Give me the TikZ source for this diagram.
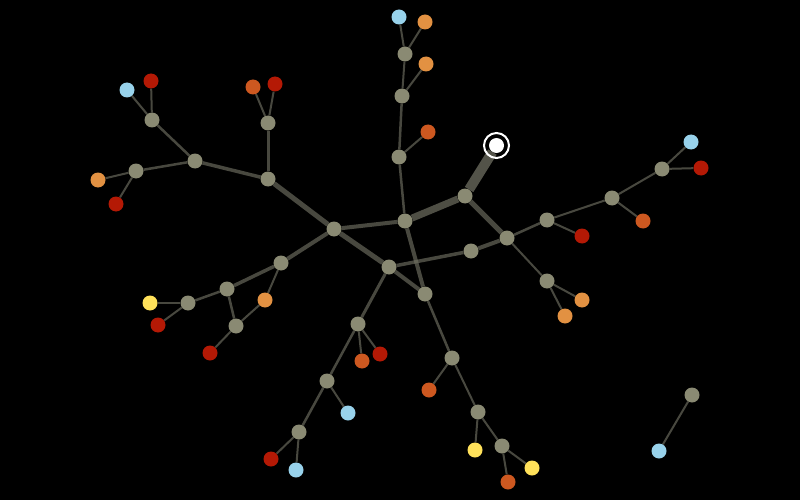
\documentclass[tikz,border=0pt]{standalone}
\pgfdeclarelayer{back}
\pgfdeclarelayer{edges}
\pgfsetlayers{back,edges,main}
\definecolor{ngray}{RGB}{138,138,115}
\definecolor{nblue}{RGB}{152,210,235}
\definecolor{nred}{RGB}{180,25,5}
\definecolor{norr}{RGB}{205,88,32}
\definecolor{nora}{RGB}{226,145,66}
\definecolor{nyel}{RGB}{255,225,90}
\definecolor{ecol}{RGB}{112,112,98}
\tikzset{
  nd/.style={circle,inner sep=0pt,minimum size=15pt,draw=none},
  gn/.style={nd,fill=ngray},
  bl/.style={nd,fill=nblue},
  rd/.style={nd,fill=nred},
  orr/.style={nd,fill=norr},
  ora/.style={nd,fill=nora},
  yl/.style={nd,fill=nyel},
  wn/.style={nd,fill=white},
  ringnode/.style={circle,inner sep=0pt,minimum size=25pt,draw=white,line width=2pt},
  e/.style={draw=ecol,draw opacity=0.65,line width=2pt},
  ew/.style={e,line width=#1}
}
\begin{document}
\begin{tikzpicture}[x=1pt,y=-1pt]
\begin{pgfonlayer}{back}
\fill[black] (0,0) rectangle (800,500);
\end{pgfonlayer}
\useasboundingbox (0,0) rectangle (800,500);
% internal nodes
\node[gn] (A) at (334,229) {};
\node[gn] (B) at (405,221) {};
\node[gn] (C) at (465,196) {};
\node[gn] (D) at (389,267) {};
\node[gn] (E) at (425,294) {};
\node[gn] (F) at (471,251) {};
\node[gn] (G) at (507,238) {};
\node[gn] (H) at (268,179) {};
\node[gn] (I) at (195,161) {};
\node[gn] (J) at (152,120) {};
\node[gn] (K) at (136,171) {};
\node[gn] (L) at (268,123) {};
\node[gn] (M) at (281,263) {};
\node[gn] (N) at (227,289) {};
\node[gn] (O) at (188,303) {};
\node[gn] (P) at (236,326) {};
\node[gn] (Q) at (358,324) {};
\node[gn] (R) at (327,381) {};
\node[gn] (S) at (299,432) {};
\node[gn] (T) at (452,358) {};
\node[gn] (U) at (478,412) {};
\node[gn] (V) at (502,446) {};
\node[gn] (W) at (547,220) {};
\node[gn] (X) at (612,198) {};
\node[gn] (Y) at (662,169) {};
\node[gn] (Z) at (547,281) {};
\node[gn] (AA) at (399,157) {};
\node[gn] (AB) at (402,96) {};
\node[gn] (AC) at (405,54) {};
\node[gn] (AD) at (692,395) {};
% white node
\node[wn] (WH) at (496.5,145.5) {};
\node[ringnode] (WR) at (WH.center) {};
% leaves
\node[bl] (l1) at (399,17) {};
\node[ora] (l2) at (425,22) {};
\node[ora] (l3) at (426,64) {};
\node[orr] (l4) at (428,132) {};
\node[bl] (l5) at (127,90) {};
\node[rd] (l6) at (151,81) {};
\node[ora] (l7) at (98,180) {};
\node[rd] (l8) at (116,204) {};
\node[orr] (l9) at (253,87) {};
\node[rd] (l10) at (275,84) {};
\node[yl] (l11) at (150,303) {};
\node[rd] (l12) at (158,325) {};
\node[ora] (l13) at (265,300) {};
\node[rd] (l14) at (210,353) {};
\node[orr] (l15) at (362,361) {};
\node[rd] (l16) at (380,354) {};
\node[bl] (l17) at (348,413) {};
\node[rd] (l18) at (271,459) {};
\node[bl] (l19) at (296,470) {};
\node[orr] (l20) at (429,390) {};
\node[yl] (l21) at (475,450) {};
\node[yl] (l22) at (532,468) {};
\node[orr] (l23) at (508,482) {};
\node[rd] (l24) at (582,236) {};
\node[ora] (l25) at (582,300) {};
\node[ora] (l26) at (565,316) {};
\node[orr] (l27) at (643,221) {};
\node[bl] (l28) at (691,142) {};
\node[rd] (l29) at (701,168) {};
\node[bl] (l30) at (659,451) {};
\begin{pgfonlayer}{edges}
\draw[ew=10pt,draw opacity=0.75] (C) -- (WH);
\draw[ew=7pt,draw opacity=0.7] (B) -- (C);
\draw[ew=5pt] (C) -- (G);
\draw[ew=4pt] (A) -- (B);
\draw[ew=5pt] (A) -- (H);
\draw[ew=5pt] (A) -- (D);
\draw[ew=4pt] (A) -- (M);
\draw[ew=4pt] (B) -- (E);
\draw[ew=4pt] (D) -- (E);
\draw[ew=3.5pt] (D) -- (F);
\draw[ew=4pt] (F) -- (G);
\draw[ew=2.5pt] (B) -- (AA);
\draw[ew=2.5pt] (AA) -- (AB);
\draw[e] (AB) -- (AC);
\draw[e] (AC) -- (l1);
\draw[e] (AC) -- (l2);
\draw[e] (AB) -- (l3);
\draw[e] (AA) -- (l4);
\draw[ew=2.5pt] (G) -- (W);
\draw[e] (W) -- (X);
\draw[e] (W) -- (l24);
\draw[e] (X) -- (Y);
\draw[e] (X) -- (l27);
\draw[e] (Y) -- (l28);
\draw[e] (Y) -- (l29);
\draw[e] (G) -- (Z);
\draw[e] (Z) -- (l25);
\draw[e] (Z) -- (l26);
\draw[ew=2.5pt] (E) -- (T);
\draw[e] (T) -- (l20);
\draw[e] (T) -- (U);
\draw[e] (U) -- (l21);
\draw[e] (U) -- (V);
\draw[e] (V) -- (l22);
\draw[e] (V) -- (l23);
\draw[ew=3pt] (D) -- (Q);
\draw[e] (Q) -- (l15);
\draw[e] (Q) -- (l16);
\draw[ew=2.5pt] (Q) -- (R);
\draw[e] (R) -- (l17);
\draw[ew=2.5pt] (R) -- (S);
\draw[e] (S) -- (l18);
\draw[e] (S) -- (l19);
\draw[ew=3.5pt] (M) -- (N);
\draw[e] (M) -- (l13);
\draw[ew=2.5pt] (N) -- (O);
\draw[ew=2.5pt] (N) -- (P);
\draw[e] (O) -- (l11);
\draw[e] (O) -- (l12);
\draw[e] (P) -- (l14);
\draw[e] (P) -- (l13);
\draw[ew=3.5pt] (H) -- (I);
\draw[ew=3pt] (H) -- (L);
\draw[e] (L) -- (l9);
\draw[e] (L) -- (l10);
\draw[ew=2.5pt] (I) -- (J);
\draw[ew=2.5pt] (I) -- (K);
\draw[e] (J) -- (l5);
\draw[e] (J) -- (l6);
\draw[e] (K) -- (l7);
\draw[e] (K) -- (l8);
\draw[e] (AD) -- (l30);
\end{pgfonlayer}
\end{tikzpicture}
\end{document}
